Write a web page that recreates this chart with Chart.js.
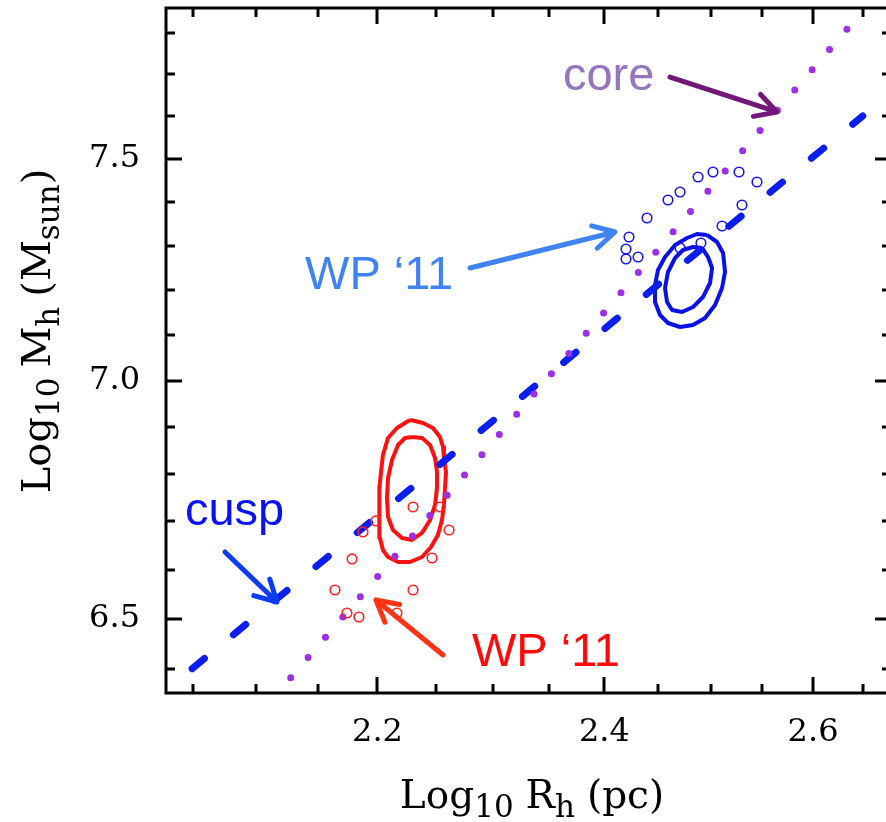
<!DOCTYPE html>
<html>
<head>
<meta charset="utf-8">
<title>Halo mass vs half-light radius</title>
<script src="https://cdn.jsdelivr.net/npm/chart.js@4.4.1/dist/chart.umd.min.js"></script>
<style>
    html, body { margin: 0; padding: 0; background: #fff; overflow: hidden; }
    #wrap { width: 900px; height: 822px; }
</style>
</head>
<body>
<div id="wrap"><canvas id="sizeMass" width="900" height="822"></canvas></div>
<script>
// Axis ranges and ticks (both axes are logarithmic)
const rhRange = [2.0286, 2.6789];
const mhRange = [6.3518, 7.8608];
const rhTicks = [2.05, 2.10, 2.15, 2.20, 2.25, 2.30, 2.35, 2.40, 2.45, 2.50, 2.55, 2.60, 2.65];
const rhMajor = [2.2, 2.4, 2.6];
const mhTicks = [6.4, 6.5, 6.6, 6.7, 6.8, 6.9, 7.0, 7.1, 7.2, 7.3, 7.4, 7.5, 7.6, 7.7, 7.8];
const mhMajor = [6.5, 7.0, 7.5];

// Model relations
const rhCusp = [2.049, 2.650];
const mhCusp = [6.400, 7.601];
const rhCore = [2.128, 2.635];
const mhCore = [6.382, 7.812];

// WP '11 estimates, blue set
const rhWpBlue = [2.4878, 2.5021, 2.5272, 2.5447, 2.5301, 2.5108, 2.4906, 2.4707, 2.4707, 2.4593, 2.4396, 2.4228, 2.4200, 2.4200, 2.4312];
const mhWpBlue = [7.4581, 7.4697, 7.4697, 7.4465, 7.3934, 7.3453, 7.3065, 7.2952, 7.4234, 7.4049, 7.3636, 7.3202, 7.2929, 7.2702, 7.2747];

// WP '11 estimates, red set
const rhWpRed = [2.2302, 2.2534, 2.2612, 2.2465, 2.2302, 2.1987, 2.1878, 2.1786, 2.1644, 2.1744, 2.1844, 2.2165];
const mhWpRed = [6.7303, 6.7303, 6.6823, 6.6243, 6.5587, 6.7011, 6.6782, 6.6223, 6.5587, 6.5119, 6.5038, 6.5119];

// Likelihood contours (outer and inner), red galaxy
const rhRedOuter = [2.2276, 2.2319, 2.2387, 2.2473, 2.2534, 2.2560, 2.2568, 2.2586, 2.2577, 2.2568, 2.2551, 2.2516, 2.2456, 2.2379, 2.2276, 2.2174, 2.2089, 2.2046, 2.2021, 2.2013, 2.2021, 2.2013, 2.2030, 2.2046, 2.2089, 2.2165, 2.2233, 2.2276];
const mhRedOuter = [6.9150, 6.9128, 6.9085, 6.8978, 6.8785, 6.8571, 6.8337, 6.8040, 6.7702, 6.7345, 6.7031, 6.6719, 6.6471, 6.6264, 6.6161, 6.6161, 6.6264, 6.6409, 6.6657, 6.6990, 6.7345, 6.7702, 6.8040, 6.8401, 6.8764, 6.8978, 6.9085, 6.9150];
const rhRedInner = [2.2293, 2.2379, 2.2448, 2.2491, 2.2508, 2.2508, 2.2491, 2.2448, 2.2379, 2.2293, 2.2208, 2.2131, 2.2089, 2.2080, 2.2089, 2.2123, 2.2174, 2.2233, 2.2293];
const mhRedInner = [6.8785, 6.8764, 6.8614, 6.8337, 6.8040, 6.7702, 6.7345, 6.7031, 6.6761, 6.6616, 6.6657, 6.6823, 6.7094, 6.7492, 6.7913, 6.8294, 6.8614, 6.8764, 6.8785];

// Likelihood contours, blue galaxy
const rhBlueOuter = [2.4964, 2.5060, 2.5118, 2.5137, 2.5108, 2.5041, 2.4945, 2.4830, 2.4707, 2.4593, 2.4518, 2.4471, 2.4471, 2.4499, 2.4565, 2.4660, 2.4773, 2.4869, 2.4964];
const mhBlueOuter = [7.3247, 7.3088, 7.2838, 7.2409, 7.2049, 7.1669, 7.1380, 7.1224, 7.1180, 7.1269, 7.1446, 7.1736, 7.2116, 7.2454, 7.2747, 7.3020, 7.3179, 7.3270, 7.3247];
const rhBlueInner = [2.4916, 2.4974, 2.5012, 2.4993, 2.4926, 2.4830, 2.4726, 2.4631, 2.4584, 2.4565, 2.4593, 2.4660, 2.4735, 2.4830, 2.4916];
const mhBlueInner = [7.2952, 7.2747, 7.2499, 7.2161, 7.1848, 7.1624, 7.1513, 7.1558, 7.1736, 7.2049, 7.2409, 7.2725, 7.2906, 7.2974, 7.2952];

// Labels with arrows: text anchor, arrow tail and arrow tip in data units
const notes = [
    { text: 'core',   color: '#9575bd', arrow: '#74177a', at: [2.3622, 7.6628], tail: [2.4612, 7.6938], tip: [2.5643, 7.6105] },
    { text: 'WP \u201811', color: '#3f83f2', arrow: '#3f83f2', at: [2.1397, 7.2027], tail: [2.2795, 7.2499], tip: [2.4098, 7.3316] },
    { text: 'cusp',   color: '#0a12f5', arrow: '#0a3cf5', at: [2.0434, 6.6927], tail: [2.0750, 6.6367], tip: [2.1168, 6.5343] },
    { text: 'WP \u201811', color: '#ff0a0a', arrow: '#ff3414', at: [2.2812, 6.4054], tail: [2.2560, 6.4274], tip: [2.1987, 6.5383] }
];

function zip(xs, ys) {
    return xs.map((x, i) => ({ x: x, y: ys[i] }));
}

function isMajor(list, v) {
    return list.some(m => Math.abs(m - v) < 1e-6);
}

const serif = '"DejaVu Serif", serif';
const sans = '"Liberation Sans", Arial, sans-serif';

// Draws a run of text pieces, some as subscripts
function drawRich(ctx, pieces, x, y) {
    pieces.forEach(p => {
        ctx.font = p.size + 'px ' + serif;
        ctx.fillText(p.t, x, y + (p.dy || 0));
        x += ctx.measureText(p.t).width + (p.gap || 0);
    });
}

function richWidth(ctx, pieces) {
    let w = 0;
    pieces.forEach(p => {
        ctx.font = p.size + 'px ' + serif;
        w += ctx.measureText(p.t).width + (p.gap || 0);
    });
    return w;
}

const xTitle = [
    { t: 'Log', size: 39 }, { t: '10', size: 31, dy: 9, gap: 12 },
    { t: 'R', size: 39 }, { t: 'h', size: 31, dy: 9, gap: 12 },
    { t: '(pc)', size: 39 }
];
const yTitle = [
    { t: 'Log', size: 40 }, { t: '10', size: 31, dy: 9, gap: 10 },
    { t: 'M', size: 40 }, { t: 'h', size: 31, dy: 9, gap: 10 },
    { t: '(M', size: 40 }, { t: 'sun', size: 31, dy: 9 }, { t: ')', size: 40 }
];

// Frame, inward ticks, axis titles and arrow labels
const framePlugin = {
    id: 'frame',
    afterDraw(chart) {
        const ctx = chart.ctx;
        const a = chart.chartArea;
        const xs = chart.scales.x;
        const ys = chart.scales.y;
        ctx.save();
        ctx.strokeStyle = '#000';
        ctx.lineWidth = 3;
        ctx.strokeRect(a.left, a.top, a.right - a.left, a.bottom - a.top);

        ctx.lineCap = 'butt';
        ctx.beginPath();
        rhTicks.forEach(v => {
            const px = Math.round(xs.getPixelForValue(v));
            const len = isMajor(rhMajor, v) ? 16 : 9;
            ctx.moveTo(px, a.bottom); ctx.lineTo(px, a.bottom - len);
            ctx.moveTo(px, a.top); ctx.lineTo(px, a.top + len);
        });
        mhTicks.forEach(v => {
            const py = Math.round(ys.getPixelForValue(v));
            const len = isMajor(mhMajor, v) ? 16 : 9;
            ctx.moveTo(a.left, py); ctx.lineTo(a.left + len, py);
            ctx.moveTo(a.right, py); ctx.lineTo(a.right - len, py);
        });
        ctx.stroke();

        // axis titles
        ctx.fillStyle = '#000';
        ctx.textBaseline = 'alphabetic';
        const xw = richWidth(ctx, xTitle);
        drawRich(ctx, xTitle, 532 - xw / 2, 808);
        ctx.save();
        ctx.translate(50, 331);
        ctx.rotate(-Math.PI / 2);
        const yw = richWidth(ctx, yTitle);
        drawRich(ctx, yTitle, -yw / 2, 0);
        ctx.restore();

        // labels and arrows
        notes.forEach(n => {
            ctx.font = '47px ' + sans;
            ctx.fillStyle = n.color;
            ctx.fillText(n.text, xs.getPixelForValue(n.at[0]), ys.getPixelForValue(n.at[1]));
            const x0 = xs.getPixelForValue(n.tail[0]), y0 = ys.getPixelForValue(n.tail[1]);
            const x1 = xs.getPixelForValue(n.tip[0]), y1 = ys.getPixelForValue(n.tip[1]);
            const ang = Math.atan2(y1 - y0, x1 - x0);
            const head = 24, spread = 0.5;
            ctx.strokeStyle = n.arrow;
            ctx.lineWidth = 5;
            ctx.lineCap = 'round';
            ctx.lineJoin = 'round';
            ctx.beginPath();
            ctx.moveTo(x0, y0);
            ctx.lineTo(x1, y1);
            ctx.moveTo(x1 - head * Math.cos(ang - spread), y1 - head * Math.sin(ang - spread));
            ctx.lineTo(x1, y1);
            ctx.lineTo(x1 - head * Math.cos(ang + spread), y1 - head * Math.sin(ang + spread));
            ctx.stroke();
        });
        ctx.restore();
    }
};

const ring = (color) => ({
    showLine: false,
    pointStyle: 'circle',
    pointRadius: 4.8,
    pointBorderWidth: 1.6,
    pointBorderColor: color,
    pointBackgroundColor: 'rgba(0,0,0,0)',
    borderColor: color
});

const contour = (color, w) => ({
    showLine: true,
    pointRadius: 0,
    borderColor: color,
    borderWidth: w,
    borderJoinStyle: 'round',
    tension: 0
});

// keep the plot frame where the layout puts it: no extra room for label overhang
function fixPadding(axis) {
    axis.paddingTop = 0;
    axis.paddingBottom = 0;
    axis.paddingLeft = 0;
    axis.paddingRight = 0;
}

new Chart(document.getElementById('sizeMass'), {
    type: 'scatter',
    data: {
        datasets: [
            Object.assign({ label: 'WP red', data: zip(rhWpRed, mhWpRed) }, ring('#ff2222')),
            Object.assign({ label: 'WP blue', data: zip(rhWpBlue, mhWpBlue) }, ring('#1818ee')),
            {
                label: 'core', data: zip(rhCore, mhCore), showLine: true, pointRadius: 0,
                borderColor: '#9b30e6', borderWidth: 7, borderCapStyle: 'round',
                borderDash: [0, 26.7]
            },
            {
                label: 'cusp', data: zip(rhCusp, mhCusp), showLine: true, pointRadius: 0,
                borderColor: '#0a1ef0', borderWidth: 7, borderCapStyle: 'round',
                borderDash: [16, 37.5]
            },
            Object.assign({ label: 'red outer', data: zip(rhRedOuter, mhRedOuter) }, contour('#ff1010', 4)),
            Object.assign({ label: 'red inner', data: zip(rhRedInner, mhRedInner) }, contour('#ff1010', 4)),
            Object.assign({ label: 'blue outer', data: zip(rhBlueOuter, mhBlueOuter) }, contour('#0a10e8', 4)),
            Object.assign({ label: 'blue inner', data: zip(rhBlueInner, mhBlueInner) }, contour('#0a10e8', 4))
        ]
    },
    options: {
        responsive: false,
        animation: false,
        layout: { padding: { top: 8, right: 9, left: 0, bottom: 0 } },
        plugins: { legend: { display: false }, tooltip: { enabled: false } },
        scales: {
            x: {
                type: 'logarithmic',
                min: rhRange[0], max: rhRange[1],
                grid: { display: false, drawTicks: false },
                border: { display: false },
                afterBuildTicks: axis => { axis.ticks = rhTicks.map(v => ({ value: v })); },
                afterFit: axis => { axis.height = 129; fixPadding(axis); },
                ticks: {
                    autoSkip: false, maxRotation: 0, padding: 20,
                    color: '#000', font: { family: serif, size: 32 },
                    callback: v => isMajor(rhMajor, v) ? v.toFixed(1) : ''
                }
            },
            y: {
                type: 'logarithmic',
                min: mhRange[0], max: mhRange[1],
                grid: { display: false, drawTicks: false },
                border: { display: false },
                afterBuildTicks: axis => { axis.ticks = mhTicks.map(v => ({ value: v })); },
                afterFit: axis => { axis.width = 166; fixPadding(axis); },
                ticks: {
                    autoSkip: false, padding: 26,
                    color: '#000', font: { family: serif, size: 32 },
                    callback: v => isMajor(mhMajor, v) ? v.toFixed(1) : ''
                }
            }
        }
    },
    plugins: [framePlugin]
});
</script>
</body>
</html>
